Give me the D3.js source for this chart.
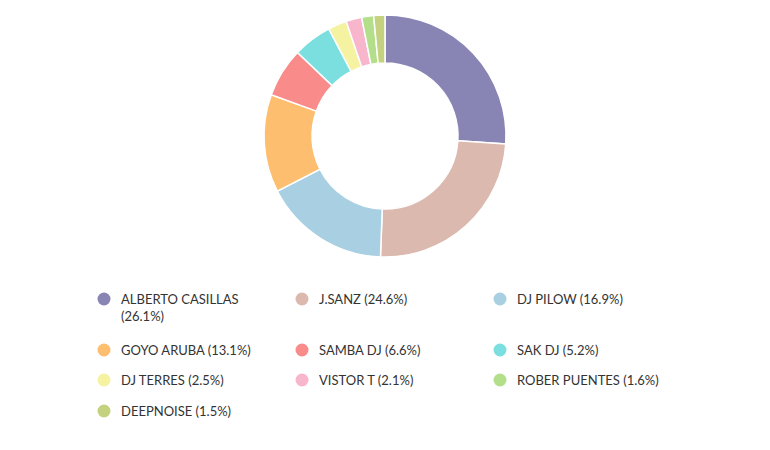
<!DOCTYPE html>
<html><head><meta charset="utf-8">
<script src="https://cdn.jsdelivr.net/npm/d3@7"></script>
<style>body{margin:0;background:#fff;font-family:"Lato","DejaVu Sans",sans-serif;}</style>
</head><body>
<script>
// Chart data
const names = ["ALBERTO CASILLAS","J.SANZ","DJ PILOW","GOYO ARUBA","SAMBA DJ","SAK DJ","DJ TERRES","VISTOR T","ROBER PUENTES","DEEPNOISE"];
const shares = [26.1,24.6,16.9,13.1,6.6,5.2,2.5,2.1,1.6,1.5];
const colors = ["#8884b4","#dcb9ae","#a8cfe2","#fdbe6f","#f98b8b","#7cdfdf","#f5f2a2","#f8b6cd","#b3df8b","#c4d17f"];

const width = 770, height = 450;
const svg = d3.select("body").append("svg").attr("width", width).attr("height", height);

// Donut
const pie = d3.pie().sort(null).value(d => d.v);
const arc = d3.arc().innerRadius(73).outerRadius(121);
const data = names.map((n, i) => ({name: n, v: shares[i], c: colors[i]}));
svg.append("g")
    .attr("transform", "translate(385,136)")
    .selectAll("path")
    .data(pie(data))
    .enter()
    .append("path")
    .attr("d", arc)
    .attr("fill", d => d.data.c)
    .attr("stroke", "#fff")
    .attr("stroke-width", 1.5);

// Legend
const colX = [104, 302, 500];
const rowY = [299, 350, 380, 411];
const legend = svg.append("g");
data.forEach((d, i) => {
    const col = i % 3, row = Math.floor(i / 3);
    const g = legend.append("g").attr("transform", `translate(${colX[col]},${rowY[row]})`);
    g.append("circle").attr("r", 6.5).attr("fill", d.c);
    const label = d.name + " (" + d.v + "%)";
    const t = g.append("text").attr("x", 17).attr("y", 5)
        .attr("font-size", 13).attr("fill", "#333");
    if (i === 0) {
        t.append("tspan").text(d.name);
        t.append("tspan").attr("x", 17).attr("dy", 17).text("(" + d.v + "%)");
    } else {
        t.text(label);
    }
});
</script>
</body></html>
